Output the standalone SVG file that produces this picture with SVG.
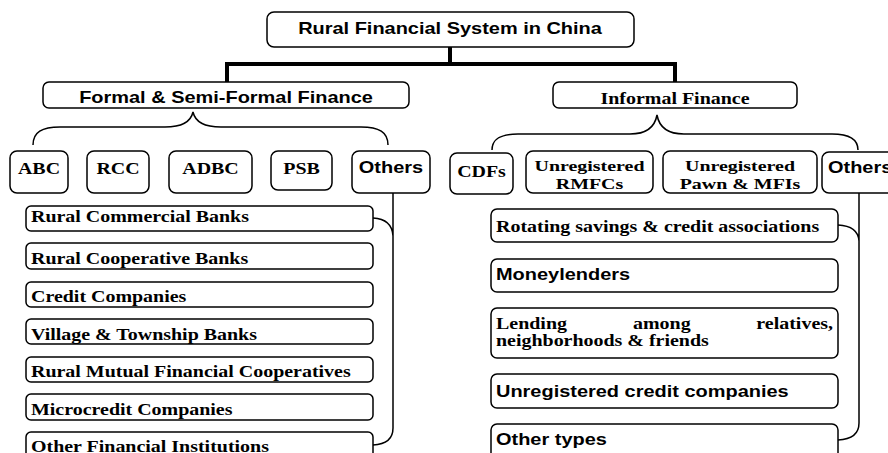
<svg xmlns="http://www.w3.org/2000/svg" width="888" height="453" viewBox="0 0 888 453">
<style>
.box{fill:#fff;stroke:#000;stroke-width:1.5}
.ln{fill:none;stroke:#000;stroke-width:1.5}
.thick{fill:none;stroke:#000;stroke-width:4}
.ts{font-family:"Liberation Serif","Times New Roman",serif;font-weight:bold;font-size:16.5px;fill:#000}
.ss{font-family:"Liberation Sans",Arial,sans-serif;font-weight:bold;font-size:16.5px;fill:#000}
.t2{font-size:15px}
.m{text-anchor:middle}
.e{text-anchor:end}
</style>
<rect width="888" height="453" fill="#fff"/>
<g id="connectors">
<path class="thick" d="M450,47 V64 M225,64 H677 M227,64 V82 M675,64 V82"/>
<path class="ln" d="M33,145 C33,132 42,127 60,127 L165,127 C183,127 191,121 193,112 C195,121 203,127 221,127 L361,127 C379,127 388,132 388,145"/>
<path class="ln" d="M492,150 C492,139 500,134 518,134 L630,134 C648,134 655,126 657,115 C659,126 666,134 684,134 L832,134 C850,134 858,140 858,150"/>
<path class="ln" d="M393,193 V428 Q393,444 373,445 M373,218 Q392,219 393,236"/>
<path class="ln" d="M859,193 V423 Q859,439 838,440 M838,225 Q858,226 859,241"/>
</g>
<g id="root"><rect class="box" x="267" y="12" width="367" height="35" rx="7"/><text class="ss m" transform="translate(450,34) scale(1.21,1)">Rural Financial System in China</text></g>
<g id="formal"><rect class="box" x="43" y="82" width="366" height="26" rx="6"/><text class="ss m" transform="translate(226,103) scale(1.21,1)">Formal &amp; Semi-Formal Finance</text></g>
<g id="informal"><rect class="box" x="553" y="82" width="244" height="26" rx="6"/><text class="ts m" transform="translate(675,104) scale(1.21,1)">Informal Finance</text></g>
<g id="abc"><rect class="box" x="10" y="151" width="58" height="42" rx="7"/><text class="ts m" transform="translate(39,174) scale(1.21,1)">ABC</text></g>
<g id="rcc"><rect class="box" x="87" y="151" width="62" height="42" rx="7"/><text class="ts m" transform="translate(118,174) scale(1.21,1)">RCC</text></g>
<g id="adbc"><rect class="box" x="169" y="151" width="83" height="42" rx="7"/><text class="ts m" transform="translate(210.5,174) scale(1.21,1)">ADBC</text></g>
<g id="psb"><rect class="box" x="271" y="151" width="61" height="39" rx="7"/><text class="ts m" transform="translate(301.5,174) scale(1.21,1)">PSB</text></g>
<g id="others-formal"><rect class="box" x="352" y="151" width="78" height="42" rx="7"/><text class="ss m" transform="translate(391,173) scale(1.21,1)">Others</text></g>
<g id="cdfs"><rect class="box" x="450" y="153" width="63" height="41" rx="7"/><text class="ts m" transform="translate(481.5,177) scale(1.21,1)">CDFs</text></g>
<g id="rmfcs"><rect class="box" x="526" y="151" width="127" height="42" rx="7"/><text class="ts t2 m" transform="translate(589.5,171) scale(1.33,1)">Unregistered</text><text class="ts t2 m" transform="translate(589.5,188.5) scale(1.33,1)">RMFCs</text></g>
<g id="pawn"><rect class="box" x="663" y="151" width="154" height="42" rx="7"/><text class="ts t2 m" transform="translate(740,171) scale(1.33,1)">Unregistered</text><text class="ts t2 m" transform="translate(740,188.5) scale(1.33,1)">Pawn &amp; MFIs</text></g>
<g id="others-informal"><rect class="box" x="822" y="152" width="80" height="41" rx="7"/><text class="ss" transform="translate(828,173) scale(1.21,1)">Others</text></g>
<g id="rcb"><rect class="box" x="26" y="206" width="347" height="25" rx="5"/><text class="ts" transform="translate(31,222) scale(1.21,1)">Rural Commercial Banks</text></g>
<g id="rcob"><rect class="box" x="26" y="243" width="347" height="26" rx="5"/><text class="ts" transform="translate(31,263.5) scale(1.21,1)">Rural Cooperative Banks</text></g>
<g id="cc"><rect class="box" x="26" y="282" width="347" height="25" rx="5"/><text class="ts" transform="translate(31,301.5) scale(1.21,1)">Credit Companies</text></g>
<g id="vtb"><rect class="box" x="26" y="319" width="347" height="25" rx="5"/><text class="ts" transform="translate(31,339.5) scale(1.21,1)">Village &amp; Township Banks</text></g>
<g id="rmfc"><rect class="box" x="26" y="357" width="347" height="25" rx="5"/><text class="ts" transform="translate(31,377) scale(1.21,1)">Rural Mutual Financial Cooperatives</text></g>
<g id="mc"><rect class="box" x="26" y="394" width="347" height="26" rx="5"/><text class="ts" transform="translate(31,414.5) scale(1.21,1)">Microcredit Companies</text></g>
<g id="ofi"><rect class="box" x="26" y="432" width="347" height="30" rx="5"/><text class="ts" transform="translate(31,452) scale(1.21,1)">Other Financial Institutions</text></g>
<g id="rosca"><rect class="box" x="491" y="209" width="347" height="33" rx="6"/><text class="ts" transform="translate(496,232) scale(1.21,1)">Rotating savings &amp; credit associations</text></g>
<g id="money"><rect class="box" x="491" y="259" width="347" height="33" rx="6"/><text class="ss" transform="translate(496,280) scale(1.21,1)">Moneylenders</text></g>
<g id="lending"><rect class="box" x="491" y="308" width="347" height="50" rx="6"/><text class="ts" transform="translate(496,329) scale(1.21,1)">Lending</text><text class="ts" transform="translate(633,329) scale(1.21,1)">among</text><text class="ts e" transform="translate(833,329) scale(1.21,1)">relatives,</text><text class="ts" transform="translate(496,346) scale(1.21,1)">neighborhoods &amp; friends</text></g>
<g id="ucc"><rect class="box" x="491" y="374" width="347" height="34" rx="6"/><text class="ss" transform="translate(496,397) scale(1.21,1)">Unregistered credit companies</text></g>
<g id="other-types"><rect class="box" x="491" y="424" width="347" height="40" rx="6"/><text class="ss" transform="translate(496,445) scale(1.21,1)">Other types</text></g>
</svg>
